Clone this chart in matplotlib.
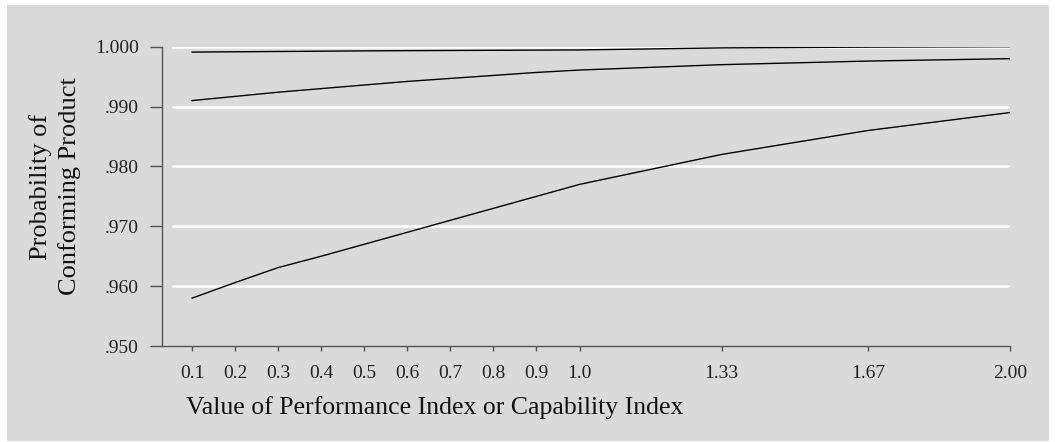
import matplotlib
matplotlib.use("Agg")
import matplotlib.pyplot as plt

x_vals = [0.1, 0.2, 0.3, 0.4, 0.5, 0.6, 0.7, 0.8, 0.9, 1.0, 1.33, 1.67, 2.00]
x_labels = ["0.1", "0.2", "0.3", "0.4", "0.5", "0.6", "0.7", "0.8", "0.9", "1.0", "1.33", "1.67", "2.00"]
upper = [0.9991, 0.99915, 0.9992, 0.99925, 0.9993, 0.99934, 0.99937, 0.9994, 0.99943, 0.99946, 0.9998, 0.99993, 1.0000]
middle = [0.9910, 0.9917, 0.9924, 0.9930, 0.9936, 0.9942, 0.9947, 0.9952, 0.9957, 0.9961, 0.9970, 0.9976, 0.9980]
lower = [0.958, 0.9606, 0.9631, 0.9650, 0.9670, 0.9690, 0.9710, 0.9730, 0.9750, 0.9770, 0.9820, 0.9860, 0.9890]
y_ticks = [0.950, 0.960, 0.970, 0.980, 0.990, 1.000]
y_labels = [".950", ".960", ".970", ".980", ".990", "1.000"]

W, H = 1055, 442
bg = "#dadada"
fig = plt.figure(figsize=(W / 100, H / 100), dpi=100, facecolor="white")
bgax = fig.add_axes([7 / W, 1 / H, (1049 - 7) / W, (441 - 5) / H], zorder=0)
bgax.set_facecolor(bg)
bgax.set_xticks([])
bgax.set_yticks([])
for s in bgax.spines.values():
    s.set_visible(False)

ax = fig.add_axes([162 / W, 1 - 346 / H, (1010 - 162) / W, (346 - 46.7) / H], zorder=2)
ax.patch.set_alpha(0)

font = "Liberation Serif"
for y in y_ticks[1:]:
    ax.axhline(y, xmin=0.013, xmax=1.0, color="white", lw=1.8, zorder=1)

for series in (upper, middle, lower):
    ax.plot(x_vals, series, color="black", lw=1.0, zorder=3)

ax.set_xlim(0.03, 2.0)
ax.set_ylim(0.95, 1.0)
ax.set_xticks(x_vals)
ax.set_xticklabels(x_labels, fontfamily=font, fontsize=14)
ax.set_yticks(y_ticks)
ax.set_yticklabels(y_labels, fontfamily=font, fontsize=14)

for s in ("top", "right"):
    ax.spines[s].set_visible(False)
for s in ("left", "bottom"):
    ax.spines[s].set_color("#555555")
    ax.spines[s].set_linewidth(1.0)
ax.tick_params(axis="y", direction="out", length=8.6, width=1.0, color="#555555", pad=8, labelcolor="#222222")
ax.tick_params(axis="x", direction="out", length=3.6, width=1.0, color="#555555", pad=10, labelcolor="#222222")

fig.text(186 / W, 1 - 408 / H, "Value of Performance Index or Capability Index",
         fontfamily=font, fontsize=18.5, ha="left", va="center", color="#111111")
fig.text(55 / W, 1 - 186.5 / H, "Probability of\nConforming Product", rotation=90,
         fontfamily=font, fontsize=19, ha="center", va="center", multialignment="center",
         color="#111111", linespacing=1.35)

fig.savefig("out.png", dpi=100, facecolor="white")
